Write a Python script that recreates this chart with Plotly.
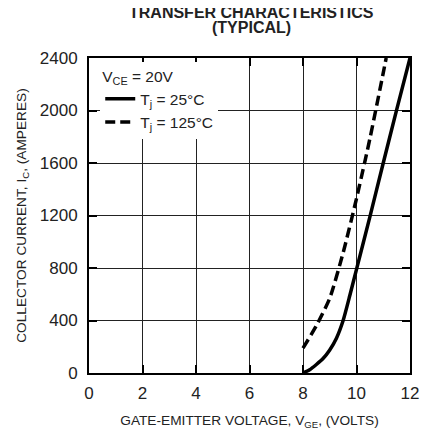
import plotly.graph_objects as go

# Data
vge_25 = [8.0, 8.25, 8.5, 8.75, 9.0, 9.25, 9.5, 9.75, 10.0, 10.5, 11.0, 11.5, 12.0]
ic_25 = [0, 25, 65, 110, 175, 265, 400, 590, 790, 1190, 1600, 2005, 2400]
vge_125 = [8.0, 8.5, 9.0, 9.5, 10.0, 10.5, 11.0, 11.11]
ic_125 = [190, 360, 570, 916, 1329, 1785, 2287, 2400]

x_ticks = [0, 2, 4, 6, 8, 10, 12]
y_ticks = [0, 400, 800, 1200, 1600, 2000, 2400]

title_lines = ["<b>TRANSFER CHARACTERISTICS</b>", "<b>(TYPICAL)</b>"]
legend_header = "V<sub>CE</sub> = 20V"
legend_labels = ["T<sub>j</sub> = 25°C", "T<sub>j</sub> = 125°C"]

FONT = "Liberation Sans, Arial, Helvetica, sans-serif"
TXT = "#222222"
DASH = "10px,5px"
GRID = "#222222"

fig = go.Figure()
fig.add_trace(go.Scatter(x=vge_25, y=ic_25, mode="lines", name=legend_labels[0],
                         line=dict(color="black", width=3.5, shape="spline", smoothing=0.6)))
fig.add_trace(go.Scatter(x=vge_125, y=ic_125, mode="lines", name=legend_labels[1],
                         line=dict(color="black", width=3.5, dash=DASH, shape="spline", smoothing=0.6)))
# invisible carrier on an overlaid y axis that only draws the horizontal grid
fig.add_trace(go.Scatter(x=vge_25, y=ic_25, mode="lines", yaxis="y2", opacity=0,
                         line=dict(width=0), hoverinfo="skip", showlegend=False))

axis_common = dict(showgrid=True, gridcolor=GRID, gridwidth=1,
                   showline=True, linecolor="black", linewidth=2, mirror="ticks",
                   ticks="inside", ticklen=8, tickwidth=2, tickcolor="black",
                   zeroline=False, automargin=False,
                   tickfont=dict(family=FONT, size=17, color=TXT))

fig.update_xaxes(range=[0, 12], tickvals=x_ticks, ticklabelstandoff=4,
                 title=dict(text="GATE-EMITTER VOLTAGE, V<sub>GE</sub>, (VOLTS)",
                            font=dict(family=FONT, size=13.7, color=TXT), standoff=13),
                 **axis_common)
fig.update_yaxes(range=[0, 2400], tickvals=y_ticks, ticklabelstandoff=6,
                 title=dict(text="COLLECTOR CURRENT, I<sub>C</sub>, (AMPERES)",
                            font=dict(family=FONT, size=13.7, color=TXT), standoff=10),
                 **axis_common)

# Title (two tightly spaced lines)
title_font = dict(family=FONT, size=16, color=TXT)
fig.add_annotation(text=title_lines[0], xref="paper", yref="paper", x=0.505, y=1.143,
                   xanchor="center", yanchor="middle", showarrow=False, font=title_font)
fig.add_annotation(text=title_lines[1], xref="paper", yref="paper", x=0.505, y=1.096,
                   xanchor="center", yanchor="middle", showarrow=False, font=title_font)

fig.update_layout(
    width=427, height=422,
    margin=dict(l=81, r=25, t=50, b=57),
    paper_bgcolor="white", plot_bgcolor="rgba(0,0,0,0)",
    yaxis2=dict(overlaying="y", side="left", range=[0, 2400], tickvals=y_ticks,
                showgrid=True, gridcolor=GRID, gridwidth=1, showticklabels=False,
                ticks="", showline=False, zeroline=False),
    showlegend=True,
    legend=dict(x=0.035, y=0.987, xanchor="left", yanchor="top",
                bgcolor="white", borderwidth=0,
                title=dict(text=legend_header, font=dict(family=FONT, size=15.5, color=TXT)),
                font=dict(family=FONT, size=15.5, color=TXT),
                tracegroupgap=0, itemwidth=30),
)

fig.write_html("out.html")
